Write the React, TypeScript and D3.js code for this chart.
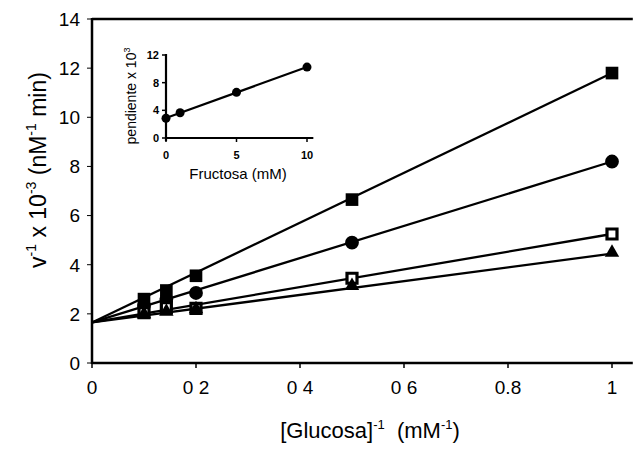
import * as d3 from 'd3';

const W = 635;
const H = 450;
const FONT = '"Liberation Sans", Arial, sans-serif';

// main plot: 1/[glucosa] vs 1/v, one series per fructose level
const glucosaInv = [0.1, 0.143, 0.2, 0.5, 1];
const fructosa10 = [2.6, 2.95, 3.55, 6.65, 11.8];
const fructosa5 = [2.35, 2.6, 2.85, 4.9, 8.2];
const fructosa1 = [2.05, 2.25, 2.22, 3.45, 5.25];
const fructosa0 = [1.95, 2.05, 2.15, 3.1, 4.45];
const fitIntercept = [1.65, 1.65, 1.65, 1.65];
const fitSlope = [10.15, 6.55, 3.6, 2.8];
const markerKind = ['filledSquare', 'circle', 'openSquare', 'triangle'];

const xTicks = [0, 0.2, 0.4, 0.6, 0.8, 1];
const xTickLabels = ['0', '0 2', '0 4', '0 6', '0.8', '1'];
const yTicks = [0, 2, 4, 6, 8, 10, 12, 14];

// inset: slope vs fructose
const fructosa = [0, 1, 5, 10];
const pendiente = [2.85, 3.65, 6.6, 10.25];
const insetXTicks = [0, 5, 10];
const insetYTicks = [0, 4, 8, 12];

const series = [fructosa10, fructosa5, fructosa1, fructosa0];

function Marker({ kind, cx, cy }: { kind: string; cx: number; cy: number }) {
  const t = `translate(${cx},${cy})`;
  if (kind === 'filledSquare')
    return <path transform={t} d={d3.symbol(d3.symbolSquare, 160)()!} fill="#000" />;
  if (kind === 'circle')
    return <path transform={t} d={d3.symbol(d3.symbolCircle, 150)()!} fill="#000" />;
  if (kind === 'openSquare')
    return <path transform={t} d={d3.symbol(d3.symbolSquare, 100)()!} fill="#fff" stroke="#000" strokeWidth={3.2} />;
  return <path transform={`translate(${cx},${cy - 1})`} d={d3.symbol(d3.symbolTriangle, 90)()!} fill="#000" />;
}

export default function App() {
  const x = d3.scaleLinear().domain([0, 1.04]).range([92, 632.8]);
  const y = d3.scaleLinear().domain([0, 14]).range([363, 19]);

  const ix = d3.scaleLinear().domain([0, 10]).range([166, 307]);
  const iy = d3.scaleLinear().domain([0, 12]).range([138, 55]);

  // least squares line for the inset
  const mx = d3.mean(fructosa)!;
  const my = d3.mean(pendiente)!;
  const sxy = d3.sum(fructosa, (f, i) => (f - mx) * (pendiente[i] - my));
  const sxx = d3.sum(fructosa, f => (f - mx) ** 2);
  const b = sxy / sxx;
  const a = my - b * mx;
  const insetLine = d3.line<number>().x(f => ix(f)).y(f => iy(a + b * f));

  return (
    <div style={{ position: 'absolute', left: 0, top: 0 }}>
      <svg width={W} height={H} style={{ display: 'block', background: '#fff' }} fontFamily={FONT}>
        {/* axes frame */}
        <line x1={x(0)} x2={x(1.04)} y1={y(14)} y2={y(14)} stroke="#000" strokeWidth={2.5} />
        <line x1={x(0)} x2={x(0)} y1={y(14) - 1} y2={y(0) + 1} stroke="#000" strokeWidth={2.5} />
        <line x1={x(0)} x2={x(1.04)} y1={y(0)} y2={y(0)} stroke="#000" strokeWidth={2.5} />

        {yTicks.map(t => (
          <g key={'y' + t}>
            <line x1={x(0) - 5} x2={x(0)} y1={y(t)} y2={y(t)} stroke="#000" strokeWidth={1} />
            <text x={80} y={y(t)} dy="0.36em" textAnchor="end" fontSize={19}>{t}</text>
          </g>
        ))}
        {xTicks.map((t, i) => (
          <g key={'x' + t}>
            <line x1={x(t)} x2={x(t)} y1={y(0)} y2={y(0) + 5} stroke="#000" strokeWidth={1.5} />
            <text x={x(t)} y={y(0) + 24} dy="0.36em" textAnchor="middle" fontSize={19} style={{ whiteSpace: 'pre' }}>{xTickLabels[i]}</text>
          </g>
        ))}

        {/* fitted lines */}
        {fitSlope.map((s, i) => {
          const fit = d3.line<number>().x(g => x(g)).y(g => y(fitIntercept[i] + s * g));
          return <path key={'fit' + i} d={fit([0, 1])!} fill="none" stroke="#000" strokeWidth={2.3} />;
        })}

        {/* points */}
        {series.map((vals, si) =>
          vals.map((v, i) => (
            <Marker key={`m${si}-${i}`} kind={markerKind[si]} cx={x(glucosaInv[i])} cy={y(v)} />
          ))
        )}

        {/* axis titles */}
        <text x={370} y={438} textAnchor="middle" fontSize={22} style={{ whiteSpace: 'pre' }}>
          [Glucosa]<tspan fontSize={13} dy={-9}>-1</tspan>
          <tspan dy={9}>{'  (mM'}</tspan>
          <tspan fontSize={13} dy={-9}>-1</tspan>
          <tspan dy={9}>)</tspan>
        </text>
        <text transform="translate(46,170) rotate(-90)" textAnchor="middle" fontSize={23} style={{ whiteSpace: 'pre' }}>
          v<tspan fontSize={14} dy={-10}>-1</tspan>
          <tspan dy={10}>{' x 10'}</tspan>
          <tspan fontSize={14} dy={-10}>-3</tspan>
          <tspan dy={10}>{' (nM'}</tspan>
          <tspan fontSize={14} dy={-10}>-1</tspan>
          <tspan dy={10}>{' min)'}</tspan>
        </text>

        {/* inset */}
        <g>
          <line x1={ix(0)} x2={ix(10.45)} y1={iy(0)} y2={iy(0)} stroke="#000" strokeWidth={2.2} />
          <line x1={ix(0)} x2={ix(0)} y1={iy(12) - 1} y2={iy(0) + 3} stroke="#000" strokeWidth={2.2} />
          {insetYTicks.map(t => (
            <g key={'iy' + t}>
              <line x1={ix(0) - 4} x2={ix(0)} y1={iy(t)} y2={iy(t)} stroke="#000" strokeWidth={1.5} />
              <text x={ix(0) - 7} y={iy(t)} dy="0.36em" textAnchor="end" fontSize={11} fontWeight="bold">{t}</text>
            </g>
          ))}
          {insetXTicks.map(t => (
            <g key={'ix' + t}>
              <line x1={ix(t)} x2={ix(t)} y1={iy(0)} y2={iy(0) + 4} stroke="#000" strokeWidth={1.5} />
              <text x={ix(t)} y={iy(0) + 17} dy="0.36em" textAnchor="middle" fontSize={11} fontWeight="bold">{t}</text>
            </g>
          ))}
          <path d={insetLine([0, 10])!} fill="none" stroke="#000" strokeWidth={2.2} />
          {fructosa.map((f, i) => (
            <circle key={'ip' + i} cx={ix(f)} cy={iy(pendiente[i])} r={4.5} fill="#000" />
          ))}
          <text x={238} y={179} textAnchor="middle" fontSize={15}>Fructosa (mM)</text>
          <text transform="translate(136,96) rotate(-90)" textAnchor="middle" fontSize={14}>
            pendiente x 10<tspan fontSize={9} dy={-6}>3</tspan>
          </text>
        </g>
      </svg>
    </div>
  );
}
